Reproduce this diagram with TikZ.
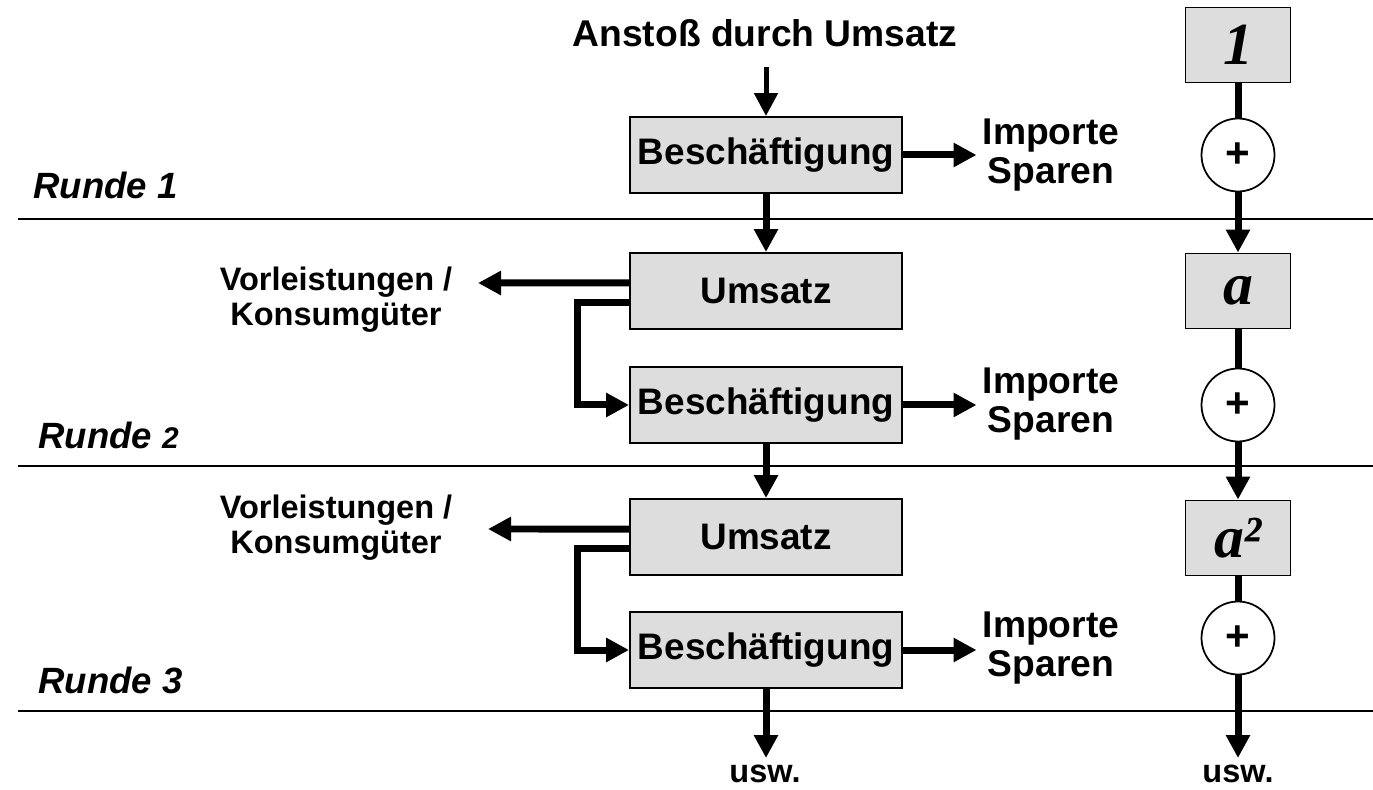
\documentclass[tikz,border=0pt]{standalone}
\usepackage{fontspec}
\setmainfont{Liberation Sans}
\newfontfamily\serifit{Liberation Serif}
\usetikzlibrary{arrows.meta}
\definecolor{boxgray}{RGB}{221,221,221}
\begin{document}
\begin{tikzpicture}[x=0.02cm,y=-0.02cm,
  box/.style={draw,line width=1.1pt,fill=boxgray,minimum width=5.44cm,minimum height=1.52cm,
    font=\fontsize{21}{25}\selectfont\bfseries},
  valbox/.style={draw,line width=1.1pt,fill=boxgray,minimum width=2.1cm,minimum height=1.5cm,
    font=\fontsize{34}{36}\selectfont\serifit\bfseries\itshape},
  plus/.style={draw,line width=1pt,fill=white,circle,minimum size=1.46cm,inner sep=0pt,
    font=\fontsize{24}{26}\selectfont\bfseries},
  txt/.style={font=\fontsize{21.2}{22.7}\selectfont\bfseries,align=center},
  small/.style={font=\fontsize{18.5}{19.8}\selectfont\bfseries,align=center},
  runde/.style={font=\fontsize{20.8}{24}\selectfont\bfseries\itshape,anchor=west,inner sep=0pt},
  arr/.style={line width=0.14cm,-{Triangle[length=0.46cm,width=0.46cm]}},
  thinarr/.style={line width=0.1cm,-{Triangle[length=0.46cm,width=0.46cm]}},
  link/.style={line width=0.14cm},
  sep/.style={line width=1.1pt}]
\useasboundingbox (0,0) rectangle (1373,790);
% Trennlinien
\coordinate (L1a) at (18,219);  \coordinate (L1b) at (1373,219);
\coordinate (L2a) at (18,466);  \coordinate (L2b) at (1373,466);
\coordinate (L3a) at (18,711);  \coordinate (L3b) at (1373,711);
\draw[sep](L1a)--(L1b);
\draw[sep](L2a)--(L2b);
\draw[sep](L3a)--(L3b);
% Runden
\node[runde] (R1) at (33,185) {Runde 1};
\node[runde] (R2) at (38,435) {Runde {\fontsize{17}{20}\selectfont 2}};
\node[runde] (R3) at (38,680) {Runde 3};
% linke Spalte
\node[txt] (start) at (765,33) {Anstoß durch Umsatz};
\coordinate (S0) at (766,67);
\node[box] (B1) at (766,155) {Beschäftigung};
\node[box] (U2) at (766,291) {Umsatz};
\node[box] (B2) at (766,405) {Beschäftigung};
\node[box] (U3) at (766,537) {Umsatz};
\node[box] (B3) at (766,650) {Beschäftigung};
\node[txt] (I1) at (1051,155) {Importe\\Sparen};
\node[txt] (I2) at (1051,404) {Importe\\Sparen};
\node[txt] (I3) at (1051,648) {Importe\\Sparen};
\node[small] (V2) at (336,300) {Vorleistungen /\\Konsumgüter};
\node[small] (V3) at (336,528) {Vorleistungen /\\Konsumgüter};
\coordinate (V2tip) at (478,283);
\coordinate (V3tip) at (488,529);
\coordinate (E1) at (766,758);
\node[small,inner sep=0pt] (usw1) at (765,774) {usw.};
\draw[thinarr](S0)--(B1.north);
\draw[arr](B1.east)--(B1.east-|I1.west);
\draw[arr](B1.south)--(U2.north);
\draw[arr]([yshift=0.16cm]U2.west)--(V2tip);
\draw[arr]([yshift=-0.24cm]U2.west)-|([xshift=-1.04cm]B2.west)--(B2.west);
\draw[arr](B2.east)--(B2.east-|I2.west);
\draw[arr](B2.south)--(U3.north);
\draw[arr]([yshift=0.16cm]U3.west)--(V3tip);
\draw[arr]([yshift=-0.24cm]U3.west)-|([xshift=-1.04cm]B3.west)--(B3.west);
\draw[arr](B3.east)--(B3.east-|I3.west);
\draw[arr](B3.south)--(E1);
% rechte Spalte
\node[valbox] (W1) at (1238,45) {1};
\node[plus] (P1) at (1238,155) {+};
\node[valbox] (W2) at (1238,291) {a};
\node[plus] (P2) at (1238,405) {+};
\node[valbox] (W3) at (1238,538) {a²};
\node[plus] (P3) at (1238,638) {+};
\coordinate (E2) at (1238,758);
\node[small,inner sep=0pt] (usw2) at (1238,774) {usw.};
\draw[link](W1.south)--(P1.north);
\draw[arr](P1.south)--(W2.north);
\draw[link](W2.south)--(P2.north);
\draw[arr](P2.south)--(W3.north);
\draw[link](W3.south)--(P3.north);
\draw[arr](P3.south)--(E2);
\end{tikzpicture}
\end{document}
